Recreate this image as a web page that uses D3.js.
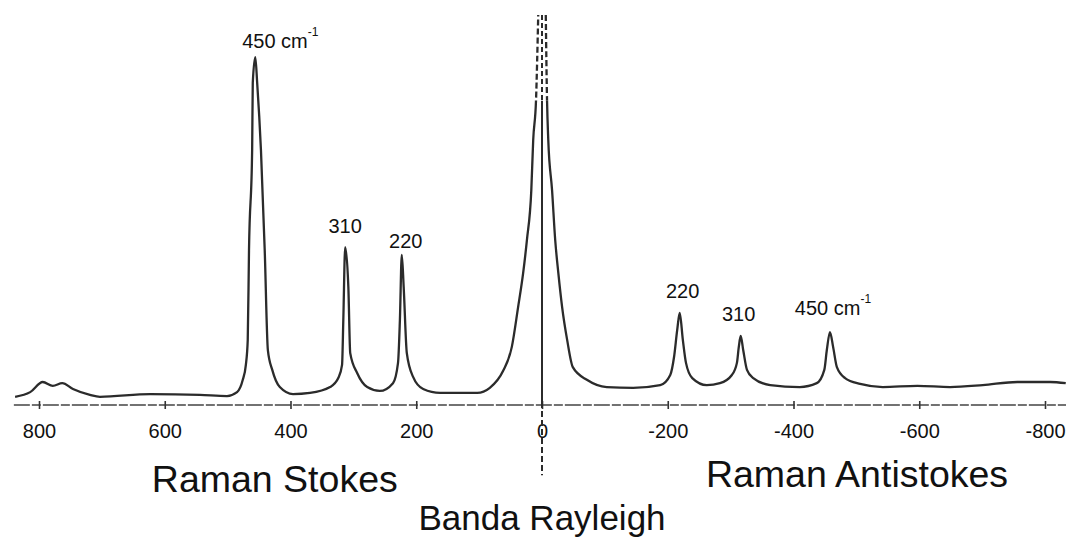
<!DOCTYPE html>
<html>
<head>
<meta charset="utf-8">
<script src="https://cdn.jsdelivr.net/npm/d3@7"></script>
<style>
  body { margin: 0; background: #fff; }
  svg { display: block; font-family: "Liberation Sans", Arial, sans-serif; }
</style>
</head>
<body>
<svg id="chart" width="1066" height="539"></svg>
<script>
// spectrum: [wavenumber (cm-1), intensity (arb.)], null = off-scale gap
const spectrum = [
  [838, 2.1], [814, 3.3], [794, 5.9], [778, 4.9], [763, 5.6], [746, 4.1], [719, 2.6],
  [703, 2.1], [623, 2.8], [544, 2.6], [501, 2.3], [485, 3.3], [476, 6.4], [471, 10.3],
  [468, 16.7], [466, 39.7], [461, 65.4], [460, 82.6], [456, 89.2], [453, 82.6], [447, 65.4],
  [441, 39.7], [436, 14.1], [429, 9.0], [417, 4.6], [396, 2.8], [369, 3.1], [337, 4.6],
  [324, 6.9], [318, 10.3], [316, 21.8], [313, 40.5], [308, 30.3], [305, 13.3], [294, 8.2],
  [278, 4.6], [258, 3.6], [237, 5.6], [229, 10.8], [226, 21.8], [223, 38.5], [220, 30.3],
  [215, 13.3], [205, 7.2], [189, 4.1], [162, 3.1], [103, 3.1], [83, 4.4], [62, 8.7],
  [48, 14.9], [38, 25.1], [30, 33.8], [24, 42.3], [17, 55.1], [14, 67.9], [9.5, 78.2],
  [6, 100], [0, null], [-6, 100], [-8, 78.2], [-10, 67.9], [-16, 55.1], [-21, 42.3],
  [-26, 33.8], [-32, 25.1], [-40, 16.7], [-49, 9.7], [-72, 6.4], [-103, 4.6], [-145, 4.4],
  [-188, 5.1], [-204, 7.7], [-210, 12.3], [-215, 19.2], [-219, 23.6], [-224, 16.7],
  [-229, 10.8], [-239, 6.9], [-262, 5.1], [-283, 5.6], [-302, 7.7], [-310, 10.8],
  [-313, 14.9], [-316, 17.7], [-320, 14.1], [-326, 9.0], [-336, 6.9], [-363, 5.1],
  [-410, 4.6], [-437, 5.6], [-449, 9.0], [-453, 14.1], [-458, 18.7], [-463, 14.9],
  [-469, 9.7], [-482, 6.9], [-506, 5.4], [-542, 4.6], [-597, 4.9], [-649, 4.6],
  [-701, 5.1], [-756, 5.9], [-808, 5.9], [-833, 5.6]
];
const tickValues = [800, 600, 400, 200, 0, -200, -400, -600, -800];
const peakNames = ["450", "310", "220"];
const stokesPeaks = [456, 313, 223];        // same order as peakNames
const antiStokesPeaks = [-458, -316, -219]; // same order as peakNames
const regionNames = ["Raman Stokes", "Banda Rayleigh", "Raman Antistokes"];
const regionWn = [425, 0, -501];
const rayleighMark = [100, -18];   // vertical marker at 0 cm-1, intensity range

const width = 1066, height = 539;
const axisY = 405;
const dashCut = 78;   // above this the Rayleigh trace is broken / dashed

const x = d3.scaleLinear().domain([800, -800]).range([39, 1045]);
const y = d3.scaleLinear().domain([0, 100]).range([axisY, 15]);

const svg = d3.select("#chart");
const ink = "#2b2b2b";

// clip regions around the off-scale Rayleigh top
const topBox = { x0: x(40), x1: x(-40), y1: y(dashCut) };
const defs = svg.append("defs");
defs.append("clipPath").attr("id", "clip-top")
  .append("rect").attr("x", topBox.x0).attr("y", 0)
  .attr("width", topBox.x1 - topBox.x0).attr("height", topBox.y1);
defs.append("clipPath").attr("id", "clip-body")
  .append("path").attr("clip-rule", "evenodd")
  .attr("d", `M0,0H${width}V${height}H0Z M${topBox.x0},0H${topBox.x1}V${topBox.y1}H${topBox.x0}Z`);
defs.append("clipPath").attr("id", "clip-mid")
  .append("rect").attr("x", 0).attr("y", y(dashCut)).attr("width", width).attr("height", y(0) - y(dashCut));
defs.append("clipPath").attr("id", "clip-low")
  .append("rect").attr("x", 0).attr("y", y(0)).attr("width", width).attr("height", height - y(0));

// + AXIS
const xAxis = d3.axisBottom(x).tickValues(tickValues).tickSizeInner(4).tickSizeOuter(0)
  .tickPadding(15).tickFormat(d => String(d));

const gx = svg.append("g")
  .attr("class", "x-axis")
  .attr("transform", `translate(0,${axisY})`)
  .call(xAxis);
gx.select(".domain").remove();
gx.selectAll(".tick line").attr("y1", -4).attr("y2", 4).attr("stroke", "#333").attr("stroke-width", 1.6);
gx.selectAll(".tick text")
  .attr("font-size", 20)
  .attr("font-family", "Liberation Sans, Arial, sans-serif")
  .attr("fill", "#111");
gx.insert("line", ":first-child")
  .attr("x1", x(840)).attr("x2", x(-835))
  .attr("stroke", "#444").attr("stroke-width", 1.6)
  .attr("stroke-dasharray", "16,2,9,2");

// + SPECTRUM
const lineFunc = d3.line()
  .defined(d => d[1] != null)
  .x(d => x(d[0]))
  .y(d => y(d[1]))
  .curve(d3.curveMonotoneX);

svg.append("path")
  .datum(spectrum)
  .attr("clip-path", "url(#clip-body)")
  .attr("fill", "none")
  .attr("stroke", ink)
  .attr("stroke-width", 2.3)
  .attr("stroke-linejoin", "round")
  .attr("d", lineFunc);

svg.append("path")
  .datum(spectrum)
  .attr("clip-path", "url(#clip-top)")
  .attr("fill", "none")
  .attr("stroke", ink)
  .attr("stroke-width", 2.3)
  .attr("stroke-dasharray", "6,3")
  .attr("d", lineFunc);

// Rayleigh marker line at 0
const markerLine = d3.line().x(() => x(0)).y(d => y(d));
[["clip-top", "5,3"], ["clip-mid", null], ["clip-low", "6,3"]].forEach(([clip, dash]) => {
  svg.append("path")
    .datum(rayleighMark)
    .attr("clip-path", `url(#${clip})`)
    .attr("fill", "none")
    .attr("stroke", ink)
    .attr("stroke-width", 2)
    .attr("stroke-dasharray", dash)
    .attr("d", markerLine);
});

// + PEAK LABELS
function peakHeight(wn) {
  return d3.max(spectrum.filter(d => d[1] != null && Math.abs(d[0] - wn) <= 3), d => d[1]);
}
const labelNudge = [[25, 9], [0, 14], [4, 7], [3, 17], [-2, 15], [3, 15]]; // dx, gap
const peaks = [
  ...stokesPeaks.map((wn, i) => ({ wn, name: peakNames[i], unit: i === 0 })),
  ...antiStokesPeaks.map((wn, i) => ({ wn, name: peakNames[i], unit: i === 0 }))
];
peaks.forEach((p, k) => {
  const t = svg.append("text")
    .attr("x", x(p.wn) + labelNudge[k][0])
    .attr("y", y(peakHeight(p.wn)) - labelNudge[k][1])
    .attr("text-anchor", "middle")
    .attr("font-size", 20)
    .attr("fill", "#111")
    .text(p.name + (p.unit ? " cm" : ""));
  if (p.unit) {
    t.append("tspan").attr("font-size", 12).attr("dy", -12).text("-1");
  }
});

// + REGION LABELS
const regionY = [492, 530, 487];
const regionSize = [37.5, 35, 37.5];
regionNames.forEach((name, i) => {
  svg.append("text")
    .attr("x", x(regionWn[i]))
    .attr("y", regionY[i])
    .attr("text-anchor", "middle")
    .attr("font-size", regionSize[i])
    .attr("fill", "#111")
    .text(name);
});
</script>
</body>
</html>
